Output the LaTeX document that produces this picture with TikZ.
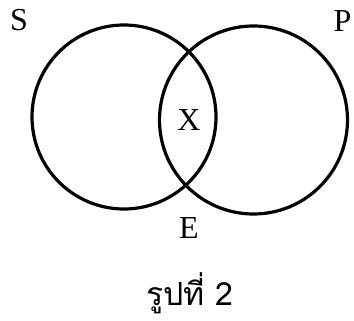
\documentclass[tikz,border=0pt]{standalone}
\usepackage{fontspec}
\setmainfont{Liberation Serif}
\newfontfamily\thaifont[Script=Thai]{Loma}
\usetikzlibrary{positioning}

\begin{document}
\begin{tikzpicture}[x=1pt, y=1pt, line width=3.2pt,
        setring/.style={circle, draw, inner sep=0pt},
        lbl/.style={font=\fontsize{32}{34}\selectfont, inner sep=0pt},
        caption/.style={font=\thaifont\fontsize{32}{36}\selectfont, inner sep=0pt}]
        \useasboundingbox (0,0) rectangle (354,321);

        \node [setring, minimum size=184pt] (sset) at (124,204) {};
        \node [setring, minimum size=188pt] (pset) at (253.5,201) {};

        \node [lbl] (s) at (19,301) {S};
        \node [lbl, anchor=east] (p) at (353,300) {P};
        \node [lbl] (x) at (189,201) {X};
        \node [lbl] (e) at (189,93) {E};

        \node [caption] (fig) at (190,28) {รูปที่ 2};
    \end{tikzpicture}
\end{document}
